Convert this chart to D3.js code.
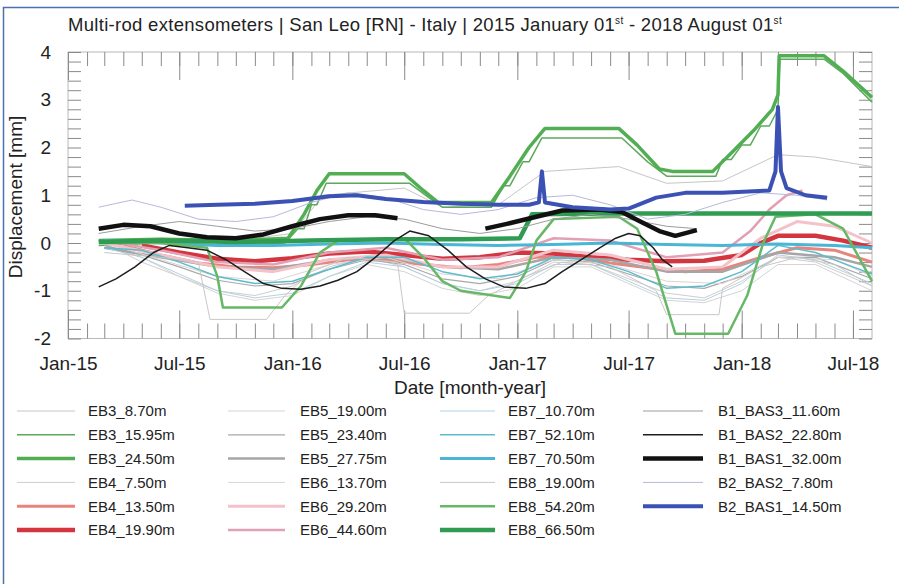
<!DOCTYPE html>
<html>
<head>
<meta charset="utf-8">
<script src="https://cdn.jsdelivr.net/npm/d3@7"></script>
<style>
  body { margin: 0; background: #fff; }
  svg { display: block; }
  text { font-family: "Liberation Sans", Arial, sans-serif; fill: #222; }
</style>
</head>
<body>
<div id="chart"></div>
<script>
const seriesNames = [
  "EB3_8.70m", "EB3_15.95m", "EB3_24.50m", "EB4_7.50m", "EB4_13.50m", "EB4_19.90m",
  "EB5_19.00m", "EB5_23.40m", "EB5_27.75m", "EB6_13.70m", "EB6_29.20m", "EB6_44.60m",
  "EB7_10.70m", "EB7_52.10m", "EB7_70.50m", "EB8_19.00m", "EB8_54.20m", "EB8_66.50m",
  "B1_BAS3_11.60m", "B1_BAS2_22.80m", "B1_BAS1_32.00m", "B2_BAS2_7.80m", "B2_BAS1_14.50m"
];

const xTickDates = ["2015-01-01", "2015-07-01", "2016-01-01", "2016-07-01", "2017-01-01", "2017-07-01", "2018-01-01", "2018-07-01"];
const xTickLabels = ["Jan-15", "Jul-15", "Jan-16", "Jul-16", "Jan-17", "Jul-17", "Jan-18", "Jul-18"];
const yTicks = [-2, -1, 0, 1, 2, 3, 4];
const yTickLabels = ["-2", "-1", "0", "1", "2", "3", "4"];

// readings [date, mm]
const eb3_870 = [["2015-02-20",0.05],["2015-06-01",0.1],["2015-10-01",0.05],["2016-01-01",0.2],["2016-02-20",1.0],["2016-07-01",1.15],["2016-09-01",0.75],["2016-12-01",0.8],["2017-02-15",1.5],["2017-06-15",1.6],["2017-09-01",1.25],["2017-12-01",1.3],["2018-03-01",1.85],["2018-05-01",1.8],["2018-08-01",1.6]];
const eb3_1595 = [["2015-02-20",-0.05],["2015-06-01",0.0],["2015-10-01",-0.05],["2015-12-20",0.0],["2016-01-10",0.3],["2016-01-20",0.3],["2016-02-01",0.8],["2016-02-10",0.8],["2016-02-25",1.25],["2016-07-10",1.25],["2016-08-10",0.95],["2016-09-01",0.75],["2016-11-20",0.75],["2016-12-10",1.2],["2016-12-20",1.2],["2017-01-10",1.7],["2017-01-20",1.7],["2017-02-10",2.2],["2017-06-20",2.2],["2017-08-01",1.7],["2017-09-01",1.4],["2017-11-20",1.4],["2017-12-01",1.75],["2017-12-15",1.75],["2018-01-01",2.05],["2018-01-15",2.05],["2018-02-01",2.45],["2018-02-15",2.45],["2018-03-01",2.8],["2018-03-04",3.85],["2018-05-15",3.85],["2018-06-15",3.55],["2018-08-01",2.95]];
const eb3_2450 = [["2015-02-20",0.05],["2015-06-01",0.08],["2015-10-01",0.05],["2015-12-25",0.1],["2016-01-20",0.6],["2016-02-10",1.1],["2016-03-01",1.45],["2016-07-01",1.45],["2016-08-01",1.1],["2016-08-25",0.85],["2016-11-20",0.85],["2016-12-20",1.4],["2017-01-20",2.0],["2017-02-15",2.4],["2017-06-15",2.4],["2017-07-15",2.05],["2017-08-20",1.55],["2017-09-10",1.5],["2017-11-15",1.5],["2017-12-20",1.95],["2018-01-20",2.35],["2018-02-20",2.8],["2018-03-01",3.1],["2018-03-03",3.92],["2018-05-15",3.92],["2018-06-15",3.6],["2018-08-01",3.05]];
const eb4_750 = [["2015-03-01",0.0],["2015-05-01",-0.4],["2015-07-01",-0.7],["2015-09-01",-1.0],["2015-11-01",-1.1],["2016-01-01",-0.9],["2016-03-01",-0.5],["2016-05-01",-0.3],["2016-07-01",-0.5],["2016-09-01",-0.85],["2016-11-01",-1.0],["2017-01-01",-0.8],["2017-03-01",-0.4],["2017-05-01",-0.45],["2017-07-01",-0.75],["2017-09-01",-1.05],["2017-11-01",-1.15],["2018-01-01",-0.8],["2018-03-01",-0.3],["2018-05-01",-0.4],["2018-08-01",-0.9]];
const eb4_1350 = [["2015-04-01",-0.05],["2015-06-01",-0.25],["2015-08-01",-0.42],["2015-10-01",-0.5],["2015-12-01",-0.52],["2016-02-01",-0.45],["2016-04-01",-0.35],["2016-06-01",-0.35],["2016-08-01",-0.45],["2016-10-01",-0.52],["2016-12-01",-0.45],["2017-02-01",-0.3],["2017-04-01",-0.3],["2017-06-01",-0.42],["2017-08-01",-0.52],["2017-10-01",-0.6],["2017-12-01",-0.55],["2018-02-01",-0.3],["2018-04-01",-0.1],["2018-06-01",-0.15],["2018-08-01",-0.4]];
const eb4_1990 = [["2015-05-01",-0.05],["2015-07-01",-0.2],["2015-09-01",-0.33],["2015-11-01",-0.38],["2016-01-01",-0.32],["2016-03-01",-0.22],["2016-05-01",-0.18],["2016-07-01",-0.25],["2016-09-01",-0.33],["2016-11-01",-0.3],["2017-01-01",-0.2],["2017-03-01",-0.22],["2017-05-01",-0.3],["2017-07-01",-0.35],["2017-09-01",-0.38],["2017-11-01",-0.37],["2018-01-01",-0.25],["2018-02-01",0.0],["2018-03-01",0.15],["2018-05-01",0.15],["2018-06-15",0.05],["2018-08-01",-0.1]];
const eb5_1900 = [["2015-03-01",-0.05],["2015-05-01",-0.3],["2015-07-01",-0.7],["2015-09-01",-1.05],["2015-11-01",-1.2],["2016-01-01",-1.1],["2016-03-01",-0.7],["2016-05-01",-0.45],["2016-07-01",-0.6],["2016-09-01",-0.95],["2016-11-01",-1.1],["2017-01-01",-0.95],["2017-03-01",-0.5],["2017-05-01",-0.5],["2017-07-01",-0.85],["2017-09-01",-1.2],["2017-11-01",-1.25],["2018-01-01",-1.0],["2018-03-01",-0.45],["2018-05-01",-0.45],["2018-08-01",-1.0]];
const eb5_2340 = [["2015-03-01",-0.05],["2015-05-01",-0.25],["2015-07-01",-0.5],["2015-09-01",-0.78],["2015-11-01",-0.9],["2016-01-01",-0.85],["2016-03-01",-0.55],["2016-05-01",-0.35],["2016-07-01",-0.45],["2016-09-01",-0.75],["2016-11-01",-0.85],["2017-01-01",-0.7],["2017-03-01",-0.35],["2017-05-01",-0.4],["2017-07-01",-0.65],["2017-09-01",-0.9],["2017-11-01",-0.95],["2018-01-01",-0.7],["2018-03-01",-0.3],["2018-05-01",-0.3],["2018-08-01",-0.75]];
const eb5_2775 = [["2015-03-01",-0.1],["2015-06-01",-0.3],["2015-09-01",-0.5],["2015-12-01",-0.55],["2016-03-01",-0.35],["2016-06-01",-0.3],["2016-09-01",-0.5],["2016-12-01",-0.55],["2017-03-01",-0.3],["2017-06-01",-0.35],["2017-09-01",-0.6],["2017-12-01",-0.6],["2018-03-01",-0.2],["2018-06-01",-0.3],["2018-08-01",-0.5]];
const eb6_1370 = [["2015-03-01",0.0],["2015-06-01",-0.35],["2015-09-01",-0.7],["2015-12-01",-0.8],["2016-03-01",-0.45],["2016-06-01",-0.3],["2016-09-01",-0.65],["2016-12-01",-0.75],["2017-03-01",-0.35],["2017-06-01",-0.45],["2017-09-01",-0.8],["2017-12-01",-0.85],["2018-03-01",-0.3],["2018-06-01",-0.35],["2018-08-01",-0.7]];
const eb6_2920 = [["2015-03-01",0.0],["2015-06-01",-0.25],["2015-09-01",-0.5],["2015-12-01",-0.6],["2016-03-01",-0.35],["2016-06-01",-0.25],["2016-09-01",-0.5],["2016-12-01",-0.5],["2017-03-01",-0.15],["2017-06-01",-0.25],["2017-09-01",-0.55],["2017-12-01",-0.5],["2018-02-01",0.1],["2018-04-01",0.45],["2018-06-01",0.35],["2018-08-01",0.0]];
const eb6_4460 = [["2015-03-01",0.05],["2015-06-01",-0.15],["2015-09-01",-0.4],["2015-12-01",-0.45],["2016-03-01",-0.2],["2016-06-01",-0.1],["2016-09-01",-0.35],["2016-12-01",-0.3],["2017-03-01",0.1],["2017-06-01",0.05],["2017-09-01",-0.3],["2017-12-01",-0.2],["2018-01-15",0.25],["2018-02-15",0.7],["2018-03-15",1.0],["2018-04-10",1.1]];
const eb7_1070 = [["2015-03-01",-0.1],["2015-05-01",-0.3],["2015-07-01",-0.65],["2015-09-01",-1.0],["2015-11-01",-1.15],["2016-01-01",-1.05],["2016-03-01",-0.7],["2016-05-01",-0.4],["2016-07-01",-0.5],["2016-09-01",-0.85],["2016-11-01",-1.0],["2017-01-01",-0.85],["2017-03-01",-0.45],["2017-05-01",-0.45],["2017-07-01",-0.8],["2017-09-01",-1.15],["2017-11-01",-1.2],["2018-01-01",-0.85],["2018-03-01",-0.25],["2018-05-01",-0.35],["2018-08-01",-0.85]];
const eb7_5210 = [["2015-03-01",-0.1],["2015-05-01",-0.15],["2015-07-01",-0.4],["2015-09-01",-0.7],["2015-11-01",-0.85],["2016-01-01",-0.8],["2016-03-01",-0.55],["2016-05-01",-0.3],["2016-07-01",-0.3],["2016-09-01",-0.6],["2016-11-01",-0.75],["2017-01-01",-0.65],["2017-03-01",-0.3],["2017-05-01",-0.35],["2017-07-01",-0.6],["2017-09-01",-0.95],["2017-11-01",-0.9],["2018-01-01",-0.6],["2018-03-01",-0.05],["2018-05-01",-0.2],["2018-07-01",-0.5],["2018-08-01",-0.65]];
const eb7_7050 = [["2015-03-01",0.05],["2015-06-01",0.0],["2015-09-01",-0.05],["2015-12-01",-0.05],["2016-03-01",-0.02],["2016-06-01",0.0],["2016-09-01",-0.03],["2016-12-01",-0.05],["2017-03-01",-0.03],["2017-06-01",0.0],["2017-09-01",-0.03],["2017-12-01",-0.05],["2018-03-01",-0.02],["2018-06-01",-0.05],["2018-08-01",-0.1]];
const eb8_1900 = [["2015-03-01",-0.2],["2015-06-01",-0.3],["2015-08-01",-0.4],["2015-08-20",-1.6],["2015-11-20",-1.6],["2015-12-20",-1.1],["2016-02-01",-0.6],["2016-04-01",-0.3],["2016-06-20",-0.4],["2016-07-01",-1.47],["2016-10-15",-1.47],["2016-11-15",-1.1],["2017-01-15",-0.7],["2017-03-15",-0.4],["2017-06-01",-0.5],["2017-08-15",-1.0],["2017-09-01",-1.5],["2017-11-25",-1.5],["2017-12-01",-0.95],["2018-02-01",-0.5],["2018-04-01",-0.3],["2018-06-01",-0.45],["2018-08-01",-0.9]];
const eb8_5420 = [["2015-03-01",0.0],["2015-06-01",0.0],["2015-08-15",-0.1],["2015-09-01",-0.7],["2015-09-10",-1.35],["2015-12-15",-1.35],["2016-01-15",-0.9],["2016-02-15",-0.2],["2016-03-15",0.05],["2016-07-01",0.1],["2016-08-01",-0.3],["2016-09-01",-0.8],["2016-10-01",-1.0],["2016-12-20",-1.15],["2017-01-15",-0.6],["2017-02-01",0.05],["2017-03-01",0.5],["2017-06-15",0.55],["2017-07-15",0.3],["2017-08-15",-0.6],["2017-09-15",-1.9],["2017-12-10",-1.9],["2018-01-10",-1.1],["2018-02-05",0.0],["2018-02-25",0.55],["2018-05-01",0.6],["2018-06-15",0.3],["2018-08-01",-0.8]];
const eb8_6650 = [["2015-02-20",0.02],["2015-06-01",0.05],["2015-10-01",0.02],["2016-02-01",0.05],["2016-06-01",0.08],["2016-10-01",0.08],["2017-01-05",0.1],["2017-01-25",0.6],["2017-06-01",0.62],["2017-12-01",0.62],["2018-08-01",0.62]];
const b1_bas3 = [["2015-02-20",0.2],["2015-05-01",0.35],["2015-07-01",0.45],["2015-09-01",0.35],["2015-11-01",0.25],["2016-01-01",0.3],["2016-03-01",0.45],["2016-05-01",0.55],["2016-07-01",0.5],["2016-09-01",0.3],["2016-11-01",0.2],["2017-01-01",0.3],["2017-03-01",0.5],["2017-05-01",0.6],["2017-07-01",0.5],["2017-09-01",0.35],["2017-10-20",0.3]];
const b1_bas2 = [["2015-02-20",-0.92],["2015-03-20",-0.75],["2015-04-20",-0.5],["2015-05-20",-0.2],["2015-06-15",-0.05],["2015-07-15",-0.1],["2015-08-15",-0.15],["2015-09-15",-0.35],["2015-10-15",-0.6],["2015-11-15",-0.85],["2015-12-15",-0.95],["2016-01-15",-0.97],["2016-02-15",-0.9],["2016-03-15",-0.78],["2016-04-15",-0.6],["2016-05-15",-0.3],["2016-06-15",0.05],["2016-07-10",0.25],["2016-08-10",0.15],["2016-09-10",-0.15],["2016-10-10",-0.5],["2016-11-10",-0.75],["2016-12-10",-0.92],["2017-01-15",-0.95],["2017-02-15",-0.85],["2017-03-15",-0.6],["2017-04-15",-0.35],["2017-05-15",-0.1],["2017-06-10",0.1],["2017-07-01",0.2],["2017-07-20",0.15],["2017-08-10",-0.1],["2017-08-25",-0.35],["2017-09-10",-0.5]];
const b1_bas1 = [["2015-02-20",0.3],["2015-04-01",0.38],["2015-05-15",0.35],["2015-07-01",0.2],["2015-08-15",0.12],["2015-10-01",0.1],["2015-11-15",0.18],["2016-01-01",0.35],["2016-02-15",0.5],["2016-04-01",0.58],["2016-05-15",0.58],["2016-06-20",0.52],["2016-09-01",null],["2016-11-10",0.3],["2016-12-15",0.4],["2017-02-01",0.55],["2017-03-15",0.68],["2017-05-15",0.7],["2017-06-20",0.65],["2017-07-20",0.45],["2017-08-20",0.25],["2017-09-15",0.15],["2017-10-20",0.27]];
const b2_bas2 = [["2015-02-20",0.75],["2015-04-15",0.9],["2015-06-01",0.75],["2015-08-01",0.5],["2015-10-01",0.45],["2015-12-01",0.55],["2016-02-01",0.85],["2016-04-01",1.05],["2016-06-01",0.95],["2016-08-01",0.7],["2016-10-01",0.6],["2016-12-01",0.7],["2017-02-01",0.95],["2017-04-01",1.0],["2017-06-01",0.8],["2017-08-01",0.5],["2017-10-01",0.6],["2017-12-01",0.85],["2018-02-01",1.05],["2018-04-01",1.0],["2018-05-20",0.9]];
const b2_bas1 = [["2015-07-10",0.78],["2015-09-01",0.8],["2015-11-01",0.82],["2016-01-01",0.88],["2016-03-01",0.98],["2016-04-15",1.0],["2016-06-01",0.92],["2016-08-01",0.86],["2016-10-01",0.82],["2016-12-01",0.8],["2017-01-20",0.8],["2017-02-05",0.85],["2017-02-10",1.5],["2017-02-15",0.85],["2017-04-01",0.75],["2017-06-01",0.7],["2017-07-01",0.72],["2017-08-15",0.95],["2017-10-01",1.05],["2017-12-01",1.05],["2018-02-15",1.1],["2018-02-25",1.5],["2018-03-01",2.85],["2018-03-06",1.5],["2018-03-15",1.15],["2018-04-15",1.0],["2018-05-20",0.95]];

const seriesValues = [
  eb3_870, eb3_1595, eb3_2450, eb4_750, eb4_1350, eb4_1990,
  eb5_1900, eb5_2340, eb5_2775, eb6_1370, eb6_2920, eb6_4460,
  eb7_1070, eb7_5210, eb7_7050, eb8_1900, eb8_5420, eb8_6650,
  b1_bas3, b1_bas2, b1_bas1, b2_bas2, b2_bas1
];

const seriesColors = [
  "#c6c6c6", "#5da85d", "#52ae52", "#d2cccc", "#e8847c", "#d4363f",
  "#d4d4d4", "#a8a8a8", "#a6a6a6", "#ddd3d3", "#f3c2ca", "#e2a0b4",
  "#b2d2e2", "#5cbccc", "#48b6d4", "#c8c8c8", "#66b866", "#2f9c52",
  "#9c9c9c", "#1e1e1e", "#111111", "#b6b9dc", "#3b52b4"
];
const seriesWidths = [
  1, 1.5, 3.5, 1, 3, 4.5,
  1, 1.2, 2.5, 1, 3, 2.5,
  1, 1.5, 3, 1, 2.5, 4.5,
  1, 1.5, 4.5, 1, 4
];

const width = 899, height = 584;
const parse = d3.timeParse("%Y-%m-%d");

const svg = d3.select("#chart").append("svg")
  .attr("width", width)
  .attr("height", height);

// outer frame
svg.append("rect")
  .attr("x", 3.5).attr("y", 7.5)
  .attr("width", 910).attr("height", 620)
  .attr("fill", "none")
  .attr("stroke", "#4a72b0")
  .attr("stroke-width", 1.5);

const x = d3.scaleTime()
  .domain([new Date(2015, 0, 1), new Date(2018, 7, 1)])
  .range([68, 872]);
const y = d3.scaleLinear()
  .domain([-2, 4])
  .range([338.5, 52]);

const plotTop = y(4), plotBottom = y(-2);

// title
const title = svg.append("text")
  .attr("x", 68).attr("y", 31)
  .style("font-size", "18.5px")
  .style("letter-spacing", "0.3px");
title.append("tspan").text("Multi-rod extensometers | San Leo [RN] - Italy | 2015 January 01");
title.append("tspan").attr("dy", -7).style("font-size", "10px").text("st");
title.append("tspan").attr("dy", 7).text(" - 2018 August 01");
title.append("tspan").attr("dy", -7).style("font-size", "10px").text("st");

// plot box
svg.append("rect")
  .attr("x", x.range()[0]).attr("y", plotTop)
  .attr("width", x.range()[1] - x.range()[0])
  .attr("height", plotBottom - plotTop)
  .attr("fill", "none")
  .attr("stroke", "#b8b8b8");

function styleTicks(g) {
  g.select(".domain").remove();
  g.selectAll("line").attr("stroke", "#8a8a8a");
  g.selectAll("text").remove();
}

const months = d3.timeMonth.range(new Date(2015, 1, 1), new Date(2018, 7, 1));
const halfYears = xTickDates.map(parse);

svg.append("g").attr("transform", `translate(0,${plotBottom})`)
  .call(d3.axisBottom(x).tickValues(months).tickSize(-15)).call(styleTicks);
svg.append("g").attr("transform", `translate(0,${plotBottom})`)
  .call(d3.axisBottom(x).tickValues(halfYears).tickSize(-28)).call(styleTicks);
svg.append("g").attr("transform", `translate(0,${plotTop})`)
  .call(d3.axisTop(x).tickValues(months).tickSize(-14)).call(styleTicks);
svg.append("g").attr("transform", `translate(0,${plotTop})`)
  .call(d3.axisTop(x).tickValues(halfYears).tickSize(-28)).call(styleTicks);

const minorY = d3.range(-20, 41, 2).map(v => v / 10);
svg.append("g").attr("transform", `translate(${x.range()[0]},0)`)
  .call(d3.axisLeft(y).tickValues(minorY).tickSize(-13)).call(styleTicks);
svg.append("g").attr("transform", `translate(${x.range()[1]},0)`)
  .call(d3.axisRight(y).tickValues(minorY).tickSize(-13)).call(styleTicks);

// tick labels
const xLab = svg.append("g").attr("transform", `translate(0,${plotBottom + 8})`)
  .call(d3.axisBottom(x).tickValues(halfYears).tickSize(0).tickPadding(10)
    .tickFormat((d, i) => xTickLabels[i]));
xLab.select(".domain").remove();
xLab.selectAll("text").style("font-size", "19px").attr("fill", "#222");

const yLab = svg.append("g").attr("transform", `translate(${x.range()[0] - 17},0)`)
  .call(d3.axisLeft(y).tickValues(yTicks).tickSize(0).tickPadding(0)
    .tickFormat((d, i) => yTickLabels[i]));
yLab.select(".domain").remove();
yLab.selectAll("text").style("font-size", "19px").attr("fill", "#222");

svg.append("text")
  .attr("x", (x.range()[0] + x.range()[1]) / 2).attr("y", 394)
  .attr("text-anchor", "middle")
  .style("font-size", "19px")
  .text("Date [month-year]");
svg.append("text")
  .attr("transform", `translate(22,197) rotate(-90)`)
  .attr("text-anchor", "middle")
  .style("font-size", "19px")
  .text("Displacement [mm]");

// lines
const line = d3.line()
  .defined(d => d[1] !== null)
  .x(d => x(parse(d[0])))
  .y(d => y(d[1]));

const plot = svg.append("g");
seriesValues.forEach((vals, i) => {
  plot.append("path")
    .datum(vals)
    .attr("fill", "none")
    .attr("stroke", seriesColors[i])
    .attr("stroke-width", seriesWidths[i])
    .attr("stroke-linejoin", "round")
    .attr("d", line);
});

// legend
const legCols = [{x0: 17, x1: 75, tx: 88}, {x0: 228, x1: 285, tx: 300}, {x0: 440, x1: 495, tx: 508}, {x0: 643, x1: 703, tx: 718}];
const legend = svg.append("g");
seriesNames.forEach((name, i) => {
  const col = legCols[Math.floor(i / 6)];
  const rowY = 411 + (i % 6) * 23.8;
  legend.append("line")
    .attr("x1", col.x0).attr("x2", col.x1)
    .attr("y1", rowY).attr("y2", rowY)
    .attr("stroke", seriesColors[i])
    .attr("stroke-width", seriesWidths[i]);
  legend.append("text")
    .attr("x", col.tx).attr("y", rowY)
    .attr("dy", "0.36em")
    .style("font-size", "15px")
    .text(name);
});
</script>
</body>
</html>
